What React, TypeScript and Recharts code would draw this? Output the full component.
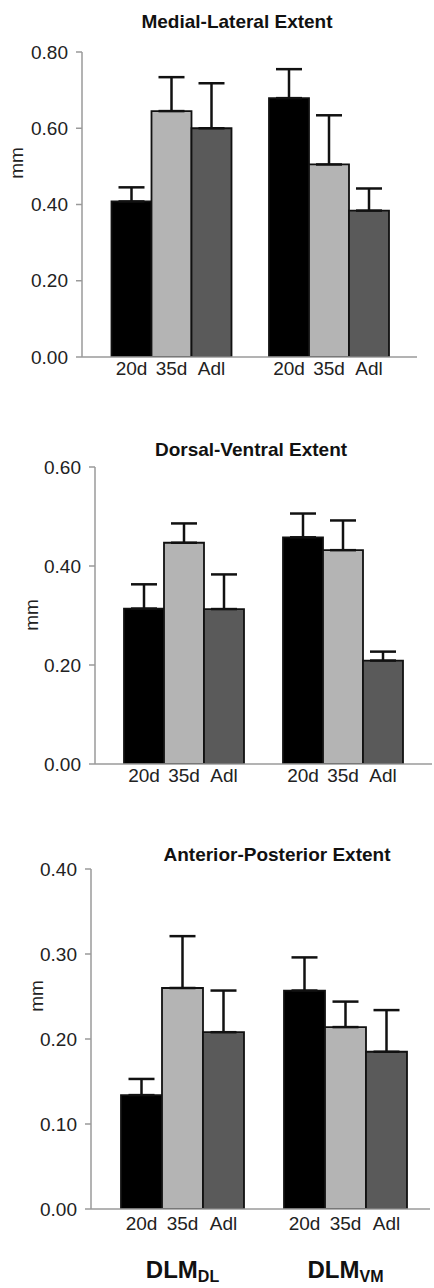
import React from 'react';
import { BarChart, Bar, XAxis, YAxis, ErrorBar, LabelList } from 'recharts';

// groups (muscle) and ages (series)
const groups = ['DL', 'VM'];
const ages = ['20d', '35d', 'Adl'];
const barColors = ['#000000', '#b4b4b4', '#5a5a5a'];

// Medial-Lateral extent (mm), [DL, VM]
const mlMean20d = [0.408, 0.679];
const mlErr20d = [0.037, 0.076];
const mlMean35d = [0.645, 0.505];
const mlErr35d = [0.089, 0.129];
const mlMeanAdl = [0.6, 0.384];
const mlErrAdl = [0.118, 0.058];
const mlTicks = [0, 0.2, 0.4, 0.6, 0.8];

// Dorsal-Ventral extent (mm)
const dvMean20d = [0.314, 0.458];
const dvErr20d = [0.049, 0.048];
const dvMean35d = [0.447, 0.432];
const dvErr35d = [0.039, 0.06];
const dvMeanAdl = [0.313, 0.209];
const dvErrAdl = [0.07, 0.018];
const dvTicks = [0, 0.2, 0.4, 0.6];

// Anterior-Posterior extent (mm)
const apMean20d = [0.134, 0.257];
const apErr20d = [0.019, 0.039];
const apMean35d = [0.26, 0.214];
const apErr35d = [0.061, 0.03];
const apMeanAdl = [0.208, 0.185];
const apErrAdl = [0.049, 0.049];
const apTicks = [0, 0.1, 0.2, 0.3, 0.4];

const FONT = '"Liberation Sans", Arial, Helvetica, sans-serif';
const AXIS = '#9a9a9a';

function buildRows(means: number[][], errs: number[][]) {
  return groups.map((g, i) => {
    const row: any = { group: g };
    means.forEach((m, s) => {
      row['m' + s] = m[i];
      row['e' + s] = [0, errs[s][i]];
    });
    return row;
  });
}

const mlData = buildRows([mlMean20d, mlMean35d, mlMeanAdl], [mlErr20d, mlErr35d, mlErrAdl]);
const dvData = buildRows([dvMean20d, dvMean35d, dvMeanAdl], [dvErr20d, dvErr35d, dvErrAdl]);
const apData = buildRows([apMean20d, apMean35d, apMeanAdl], [apErr20d, apErr35d, apErrAdl]);

const GroupTick = (props: any) => {
  const { x, y, payload } = props;
  return (
    <text x={x} y={y + 69} textAnchor="middle" fontFamily={FONT} fontWeight="bold" fill="#111">
      <tspan fontSize={24}>DLM</tspan>
      <tspan fontSize={16} dy={4}>{payload.value}</tspan>
    </text>
  );
};

interface PanelProps {
  data: any[];
  ticks: number[];
  top: number;
  height: number;
  margin: { top: number; right: number; left: number };
  xHeight: number;
  yWidth: number;
  pad: { left: number; right: number };
  gap: number;
  labelOffset: number;
  showGroups?: boolean;
}

const Panel: React.FC<PanelProps> = ({ data, ticks, top, height, margin, xHeight, yWidth, pad, gap, labelOffset, showGroups }) => (
  <div style={{ position: 'absolute', left: 0, top }}>
    <BarChart width={434} height={height} data={data} margin={{ ...margin, bottom: 0 }} barGap={0} barCategoryGap={gap}>
      <XAxis
        dataKey="group"
        height={xHeight}
        padding={pad}
        axisLine={{ stroke: AXIS, strokeWidth: 1.5 }}
        tickLine={false}
        tickSize={0}
        tickMargin={0}
        tick={showGroups ? <GroupTick /> : false}
        interval={0}
      />
      <YAxis
        width={yWidth}
        domain={[ticks[0], ticks[ticks.length - 1]]}
        ticks={ticks}
        allowDataOverflow
        tickFormatter={(v: number) => v.toFixed(2)}
        axisLine={{ stroke: AXIS, strokeWidth: 1.5 }}
        tickLine={{ stroke: AXIS, strokeWidth: 1.5 }}
        tickSize={6}
        tickMargin={8}
        tick={{ fontSize: 19, fill: '#222', fontFamily: FONT }}
      />
      {ages.map((age, s) => (
        <Bar
          key={age}
          dataKey={'m' + s}
          fill={barColors[s]}
          stroke="#111"
          strokeWidth={1.8}
          isAnimationActive={false}
        >
          <ErrorBar
            dataKey={'e' + s}
            direction="y"
            width={13}
            stroke="#111"
            strokeWidth={2.5}
            isAnimationActive={false}
          />
          <LabelList
            dataKey={'m' + s}
            content={(p: any) => (
              <text
                x={p.x + p.width / 2}
                y={p.y + p.height + labelOffset}
                textAnchor="middle"
                fontSize={19}
                fontFamily={FONT}
                fill="#222"
              >
                {age}
              </text>
            )}
          />
        </Bar>
      ))}
    </BarChart>
  </div>
);

export default function App() {
  return (
    <div style={{ position: 'absolute', left: 0, top: 0, width: 434, height: 1288, background: '#fff', fontFamily: FONT }}>
      <Panel
        data={mlData}
        ticks={mlTicks}
        top={0}
        height={390}
        margin={{ top: 52, right: 17, left: 0 }}
        xHeight={33}
        yWidth={82}
        pad={{ left: 10, right: 10 }}
        gap={19.5}
        labelOffset={18}
      />
      <Panel
        data={dvData}
        ticks={dvTicks}
        top={400}
        height={390}
        margin={{ top: 67, right: 2, left: 0 }}
        xHeight={26}
        yWidth={95}
        pad={{ left: 9, right: 10 }}
        gap={20}
        labelOffset={18}
      />
      <Panel
        data={apData}
        ticks={apTicks}
        top={800}
        height={488}
        margin={{ top: 69, right: 4, left: 0 }}
        xHeight={79}
        yWidth={91}
        pad={{ left: 10, right: 3 }}
        gap={20}
        labelOffset={21}
        showGroups
      />
      <svg width={434} height={1288} style={{ position: 'absolute', left: 0, top: 0, pointerEvents: 'none' }}>
        <g fontFamily={FONT} fill="#111">
          <text x={237} y={28} textAnchor="middle" fontSize={19} fontWeight="bold">Medial-Lateral Extent</text>
          <text x={251} y={456} textAnchor="middle" fontSize={19} fontWeight="bold">Dorsal-Ventral Extent</text>
          <text x={277} y={861} textAnchor="middle" fontSize={19} fontWeight="bold">Anterior-Posterior Extent</text>
          <text transform="translate(23,163) rotate(-90)" textAnchor="middle" fontSize={19} fill="#222">mm</text>
          <text transform="translate(38,615) rotate(-90)" textAnchor="middle" fontSize={19} fill="#222">mm</text>
          <text transform="translate(43,996) rotate(-90)" textAnchor="middle" fontSize={19} fill="#222">mm</text>
        </g>
      </svg>
    </div>
  );
}
